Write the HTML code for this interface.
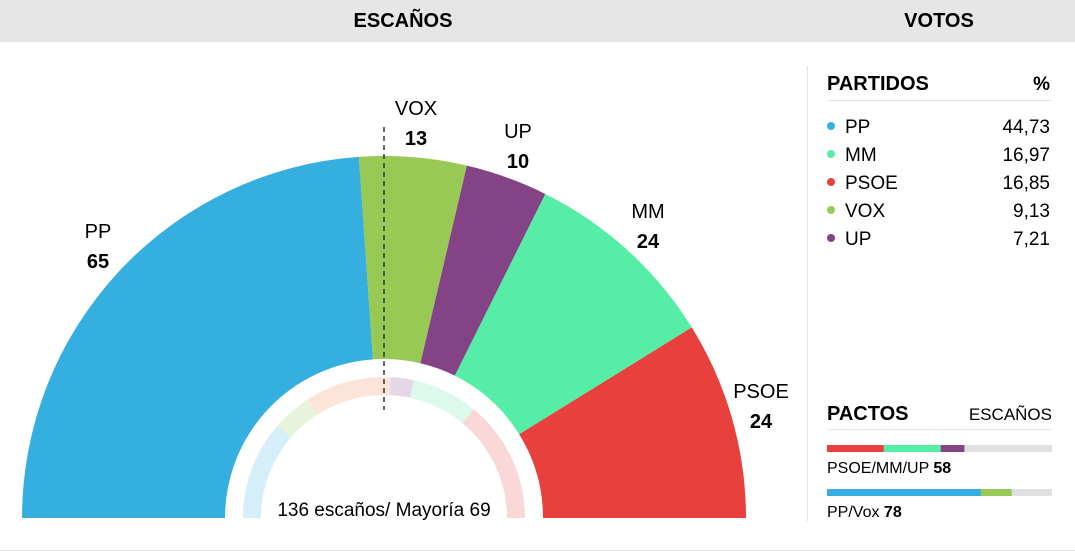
<!DOCTYPE html>
<html><head><meta charset="utf-8"><style>
body{margin:0;width:1075px;height:554px;background:#fff;font-family:"Liberation Sans",sans-serif;overflow:hidden;position:relative}
.hdr{position:absolute;top:0;left:0;width:1075px;height:42px;background:#e6e6e6}
.t{position:absolute;font-weight:bold;font-size:20px;width:200px;text-align:center;top:10px}
.panel{position:absolute;left:807px;top:66px;width:1px;height:455px;background:#e2e2e2}
.foot{position:absolute;left:0;top:550px;width:1075px;height:1px;background:#e2e2e2}
svg{position:absolute;left:0;top:0}
text{font-family:"Liberation Sans",sans-serif}
</style></head><body>
<div class="hdr"></div>
<div class="t" style="left:303px">ESCAÑOS</div>
<div class="t" style="left:839px">VOTOS</div>
<div class="panel"></div>
<div class="foot"></div>
<svg id="s" width="1075" height="554"></svg>
<script>
const parties=["PP","VOX","UP","MM","PSOE"];
const seats=[65,13,10,24,24];
const colors=["#35aee0","#97c954","#834384","#56eea6","#e8413d"];
const prevParties=["PP","VOX","CS","UP","MM","PSOE"];
const prevSeats=[30,12,26,7,20,37];
const prevColors=["#d6eef9","#e8f3dd","#fde4d9","#e6d7e6","#dcfaec","#fad8d8"];
const voteParties=["PP","MM","PSOE","VOX","UP"];
const votePct=["44,73","16,97","16,85","9,13","7,21"];
const voteColors=["#35aee0","#56eea6","#e8413d","#97c954","#834384"];
const pactNames=["PSOE/MM/UP","PP/Vox"];
const pactMembers=[[4,3,2],[0,1]];
const pactMax=95;
const NS="http://www.w3.org/2000/svg";
const svg=document.getElementById('s');
const cx=384,cy=518;
function mk(t,a){const e=document.createElementNS(NS,t);for(const k in a)e.setAttribute(k,a[k]);svg.appendChild(e);return e;}
function pt(r,a){return [cx-r*Math.cos(a),cy-r*Math.sin(a)];}
function arc(r0,r1,a0,a1){const p=[pt(r1,a0),pt(r1,a1),pt(r0,a1),pt(r0,a0)];
return `M${p[0]}A${r1},${r1} 0 0 1 ${p[1]}L${p[2]}A${r0},${r0} 0 0 0 ${p[3]}Z`;}
const tot=seats.reduce((a,b)=>a+b,0);
let acc=0;
const labelPos=[[98,231],[416,108],[518,131],[648,211],[761,391]];
seats.forEach((v,i)=>{const a0=acc/tot*Math.PI,a1=(acc+v)/tot*Math.PI;acc+=v;
const e=mk('path',{d:arc(159,362,a0,a1),fill:colors[i]});


const [lx,ly]=labelPos[i];
const t1=mk('text',{x:lx,y:ly+7,'text-anchor':'middle','font-size':20});t1.textContent=parties[i];


const t2=mk('text',{x:lx,y:ly+37,'text-anchor':'middle','font-size':20,'font-weight':'bold'});t2.textContent=v;


});
const ptot=prevSeats.reduce((a,b)=>a+b,0);acc=0;
prevSeats.forEach((v,i)=>{const a0=acc/ptot*Math.PI,a1=(acc+v)/ptot*Math.PI;acc+=v;
const e=mk('path',{d:arc(123,141,a0,a1),fill:prevColors[i]});

});
const mj=mk('line',{x1:cx,y1:127,x2:cx,y2:410,stroke:'#333','stroke-width':1.5,'stroke-dasharray':'5,4'});

const ct=mk('text',{x:cx,y:516,'text-anchor':'middle','font-size':19});ct.textContent='136 escaños/ Mayoría 69';

let h=mk('text',{x:827,y:90,'font-size':20,'font-weight':'bold'});h.textContent='PARTIDOS';

h=mk('text',{x:1050,y:90,'font-size':19,'font-weight':'bold','text-anchor':'end'});h.textContent='%';

mk('rect',{x:827,y:100,width:225,height:1,fill:'#e6e6e6'});
voteParties.forEach((p,i)=>{const y=126+i*28;
const c=mk('circle',{cx:831,cy:y,r:4,fill:voteColors[i]});

const t=mk('text',{x:845,y:y+7,'font-size':19});t.textContent=p;

const v=mk('text',{x:1050,y:y+7,'font-size':19,'text-anchor':'end'});v.textContent=votePct[i];
});
h=mk('text',{x:827,y:420,'font-size':20,'font-weight':'bold'});h.textContent='PACTOS';

h=mk('text',{x:1052,y:420,'font-size':17,'text-anchor':'end'});h.textContent='ESCAÑOS';

mk('rect',{x:827,y:429,width:225,height:1,fill:'#e6e6e6'});
const bw=225;
pactNames.forEach((n,j)=>{const y=445+j*44;
const bg=mk('rect',{x:827,y:y,width:bw,height:7,fill:'#e0e0e0'});

let x=827,sum=0;
pactMembers[j].forEach(k=>{const w=seats[k]/pactMax*bw;sum+=seats[k];
const r=mk('rect',{x:x,y:y,width:w,height:7,fill:colors[k]});
x+=w;});
const t=mk('text',{x:827,y:y+28,'font-size':16});
t.innerHTML=n+' <tspan font-weight="bold">'+sum+'</tspan>';
});
</script>
</body></html>
